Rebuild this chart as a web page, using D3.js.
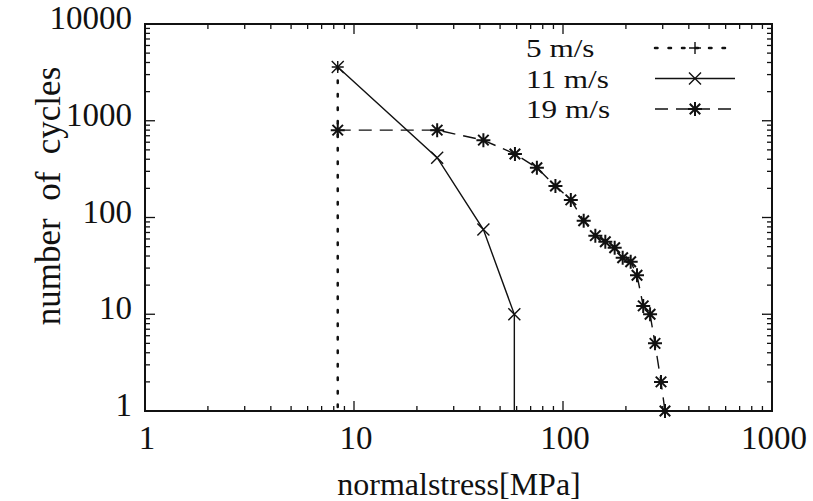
<!DOCTYPE html>
<html>
<head>
<meta charset="utf-8">
<script src="https://cdn.jsdelivr.net/npm/d3@7"></script>
<style>
	body { margin: 0; background: #fff; }
</style>
</head>
<body>
<div id="wrapper"></div>
<script>
// values
const speedLabels = ["5 m/s", "11 m/s", "19 m/s"];

const stress5 = [8.36, 8.36];
const cycles5 = [3600, 0.01];

const stress11 = [8.36, 25, 41.6, 58.5, 58.5];
const cycles11 = [3600, 415, 75, 10, 0.01];

const stress19 = [8.36, 25, 41.6, 58.9, 75, 92, 109, 125.6, 142.8, 159.4, 176.7, 193, 210.8, 226, 242, 261, 275.5, 294.4, 307.6];
const cycles19 = [800, 800, 630, 453, 327, 212, 152, 92.7, 64.9, 56.2, 48.7, 38.4, 34.9, 25.3, 12.2, 10, 5, 2, 1];

const xTicks = [1, 10, 100, 1000];
const yTicks = [1, 10, 100, 1000, 10000];

const serif = "'Liberation Serif', 'Times New Roman', 'DejaVu Serif', serif";

function drawChart(){
	let dimensions = {
		width: 813,
		height: 501,
		margin: {
			top: 24,
			right: 41,
			bottom: 90,
			left: 145
		}
	};
	dimensions.boundedWidth = dimensions.width - dimensions.margin.left - dimensions.margin.right;
	dimensions.boundedHeight = dimensions.height - dimensions.margin.top - dimensions.margin.bottom;

	const wrapper = d3.select("#wrapper").append("svg")
		.attr("width", dimensions.width)
		.attr("height", dimensions.height)
		.attr("font-family", serif);

	const bounds = wrapper.append("g")
		.attr("transform", `translate(${dimensions.margin.left},${dimensions.margin.top})`);

	const xScaler = d3.scaleLog()
		.domain([1, 1000])
		.range([0, dimensions.boundedWidth]);

	const yScaler = d3.scaleLog()
		.domain([1, 10000])
		.range([dimensions.boundedHeight, 0]);

	bounds.append("clipPath").attr("id", "plotClip")
		.append("rect")
		.attr("width", dimensions.boundedWidth)
		.attr("height", dimensions.boundedHeight);

	// minor ticks 2..9 inside each decade
	const minor = (dom) => {
		let out = [];
		for (let d = dom[0]; d < dom[1]; d *= 10)
			for (let k = 2; k < 10; k++) out.push(d * k);
		return out;
	};

	const tickLayer = bounds.append("g").attr("stroke", "#111").attr("stroke-width", 1.3);
	const majorLen = 10, minorLen = 5;

	xTicks.forEach(v => {
		const x = xScaler(v);
		tickLayer.append("line").attr("x1", x).attr("x2", x).attr("y1", dimensions.boundedHeight).attr("y2", dimensions.boundedHeight - majorLen);
		tickLayer.append("line").attr("x1", x).attr("x2", x).attr("y1", 0).attr("y2", majorLen);
	});
	minor(xScaler.domain()).forEach(v => {
		const x = xScaler(v);
		tickLayer.append("line").attr("x1", x).attr("x2", x).attr("y1", dimensions.boundedHeight).attr("y2", dimensions.boundedHeight - minorLen);
		tickLayer.append("line").attr("x1", x).attr("x2", x).attr("y1", 0).attr("y2", minorLen);
	});
	yTicks.forEach(v => {
		const y = yScaler(v);
		tickLayer.append("line").attr("x1", 0).attr("x2", majorLen).attr("y1", y).attr("y2", y);
		tickLayer.append("line").attr("x1", dimensions.boundedWidth).attr("x2", dimensions.boundedWidth - majorLen).attr("y1", y).attr("y2", y);
	});
	minor(yScaler.domain()).forEach(v => {
		const y = yScaler(v);
		tickLayer.append("line").attr("x1", 0).attr("x2", minorLen).attr("y1", y).attr("y2", y);
		tickLayer.append("line").attr("x1", dimensions.boundedWidth).attr("x2", dimensions.boundedWidth - minorLen).attr("y1", y).attr("y2", y);
	});

	// tick labels
	bounds.append("g").selectAll("text")
		.data(xTicks)
		.enter().append("text")
		.attr("x", d => xScaler(d) + 2)
		.attr("y", dimensions.boundedHeight + 38)
		.attr("text-anchor", "middle")
		.attr("font-size", 33)
		.attr("fill", "#111")
		.text(d => d);

	bounds.append("g").selectAll("text")
		.data(yTicks)
		.enter().append("text")
		.attr("x", -13)
		.attr("y", d => yScaler(d) + 5)
		.attr("text-anchor", "end")
		.attr("font-size", 33)
		.attr("fill", "#111")
		.text(d => d);

	// axis titles
	wrapper.append("text")
		.attr("x", 459)
		.attr("y", 495)
		.attr("text-anchor", "middle")
		.attr("font-size", 32)
		.attr("fill", "#111")
		.text("normalstress[MPa]");

	wrapper.append("text")
		.attr("transform", "translate(60,196) rotate(-90)")
		.attr("text-anchor", "middle")
		.attr("font-size", 35)
		.attr("fill", "#111")
		.style("white-space", "pre")
		.text("number  of  cycles");

	// series
	const series = [
		{ xs: stress5, ys: cycles5, dash: "2.5 11", marker: "plus" },
		{ xs: stress11, ys: cycles11, dash: null, marker: "cross" },
		{ xs: stress19, ys: cycles19, dash: "13 8", marker: "star" }
	];

	const lineGen = d3.line()
		.x(d => xScaler(d[0]))
		.y(d => yScaler(d[1]));

	const markerPath = (type, s) => {
		const p = d3.path();
		if (type === "plus" || type === "star") {
			p.moveTo(-s, 0); p.lineTo(s, 0);
			p.moveTo(0, -s); p.lineTo(0, s);
		}
		if (type === "cross" || type === "star") {
			const c = type === "star" ? s * 0.75 : s;
			p.moveTo(-c, -c); p.lineTo(c, c);
			p.moveTo(-c, c); p.lineTo(c, -c);
		}
		return p.toString();
	};

	const plotArea = bounds.append("g").attr("clip-path", "url(#plotClip)");
	const markLayer = bounds.append("g");

	series.forEach(s => {
		const pts = s.xs.map((x, i) => [x, s.ys[i]]);
		plotArea.append("path")
			.attr("d", lineGen(pts))
			.attr("fill", "none")
			.attr("stroke", "#111")
			.attr("stroke-width", s.marker === "plus" ? 2.5 : 1.4)
			.attr("stroke-linecap", s.marker === "plus" ? "round" : "butt")
			.attr("stroke-dasharray", s.dash);

		markLayer.selectAll(null)
			.data(pts.filter(d => d[1] >= 1))
			.enter().append("path")
			.attr("transform", d => `translate(${xScaler(d[0])},${yScaler(d[1])})`)
			.attr("d", markerPath(s.marker, s.marker === "star" ? 7 : 6))
			.attr("fill", "none")
			.attr("stroke", "#111")
			.attr("stroke-width", s.marker === "star" ? 2 : 1.4);
	});

	// frame
	bounds.append("rect")
		.attr("width", dimensions.boundedWidth)
		.attr("height", dimensions.boundedHeight)
		.attr("fill", "none")
		.attr("stroke", "#111")
		.attr("stroke-width", 2);

	// legend (text is a little wider than tall in the picture)
	const legend = wrapper.append("g");
	const rowY = [48, 78.5, 109];
	series.forEach((s, i) => {
		legend.append("text")
			.attr("transform", `translate(526,${rowY[i] + 9}) scale(1.2,1)`)
			.attr("font-size", 26)
			.attr("fill", "#111")
			.style("white-space", "pre")
			.text(speedLabels[i]);
		legend.append("line")
			.attr("x1", 655).attr("x2", 735)
			.attr("y1", rowY[i]).attr("y2", rowY[i])
			.attr("stroke", "#111")
			.attr("stroke-width", s.marker === "plus" ? 2.5 : 1.4)
			.attr("stroke-linecap", s.marker === "plus" ? "round" : "butt")
			.attr("stroke-dasharray", s.dash);
		legend.append("path")
			.attr("transform", `translate(695,${rowY[i]})`)
			.attr("d", markerPath(s.marker, s.marker === "star" ? 7 : 6))
			.attr("fill", "none")
			.attr("stroke", "#111")
			.attr("stroke-width", s.marker === "star" ? 2 : 1.4);
	});
}

drawChart();
</script>
</body>
</html>
